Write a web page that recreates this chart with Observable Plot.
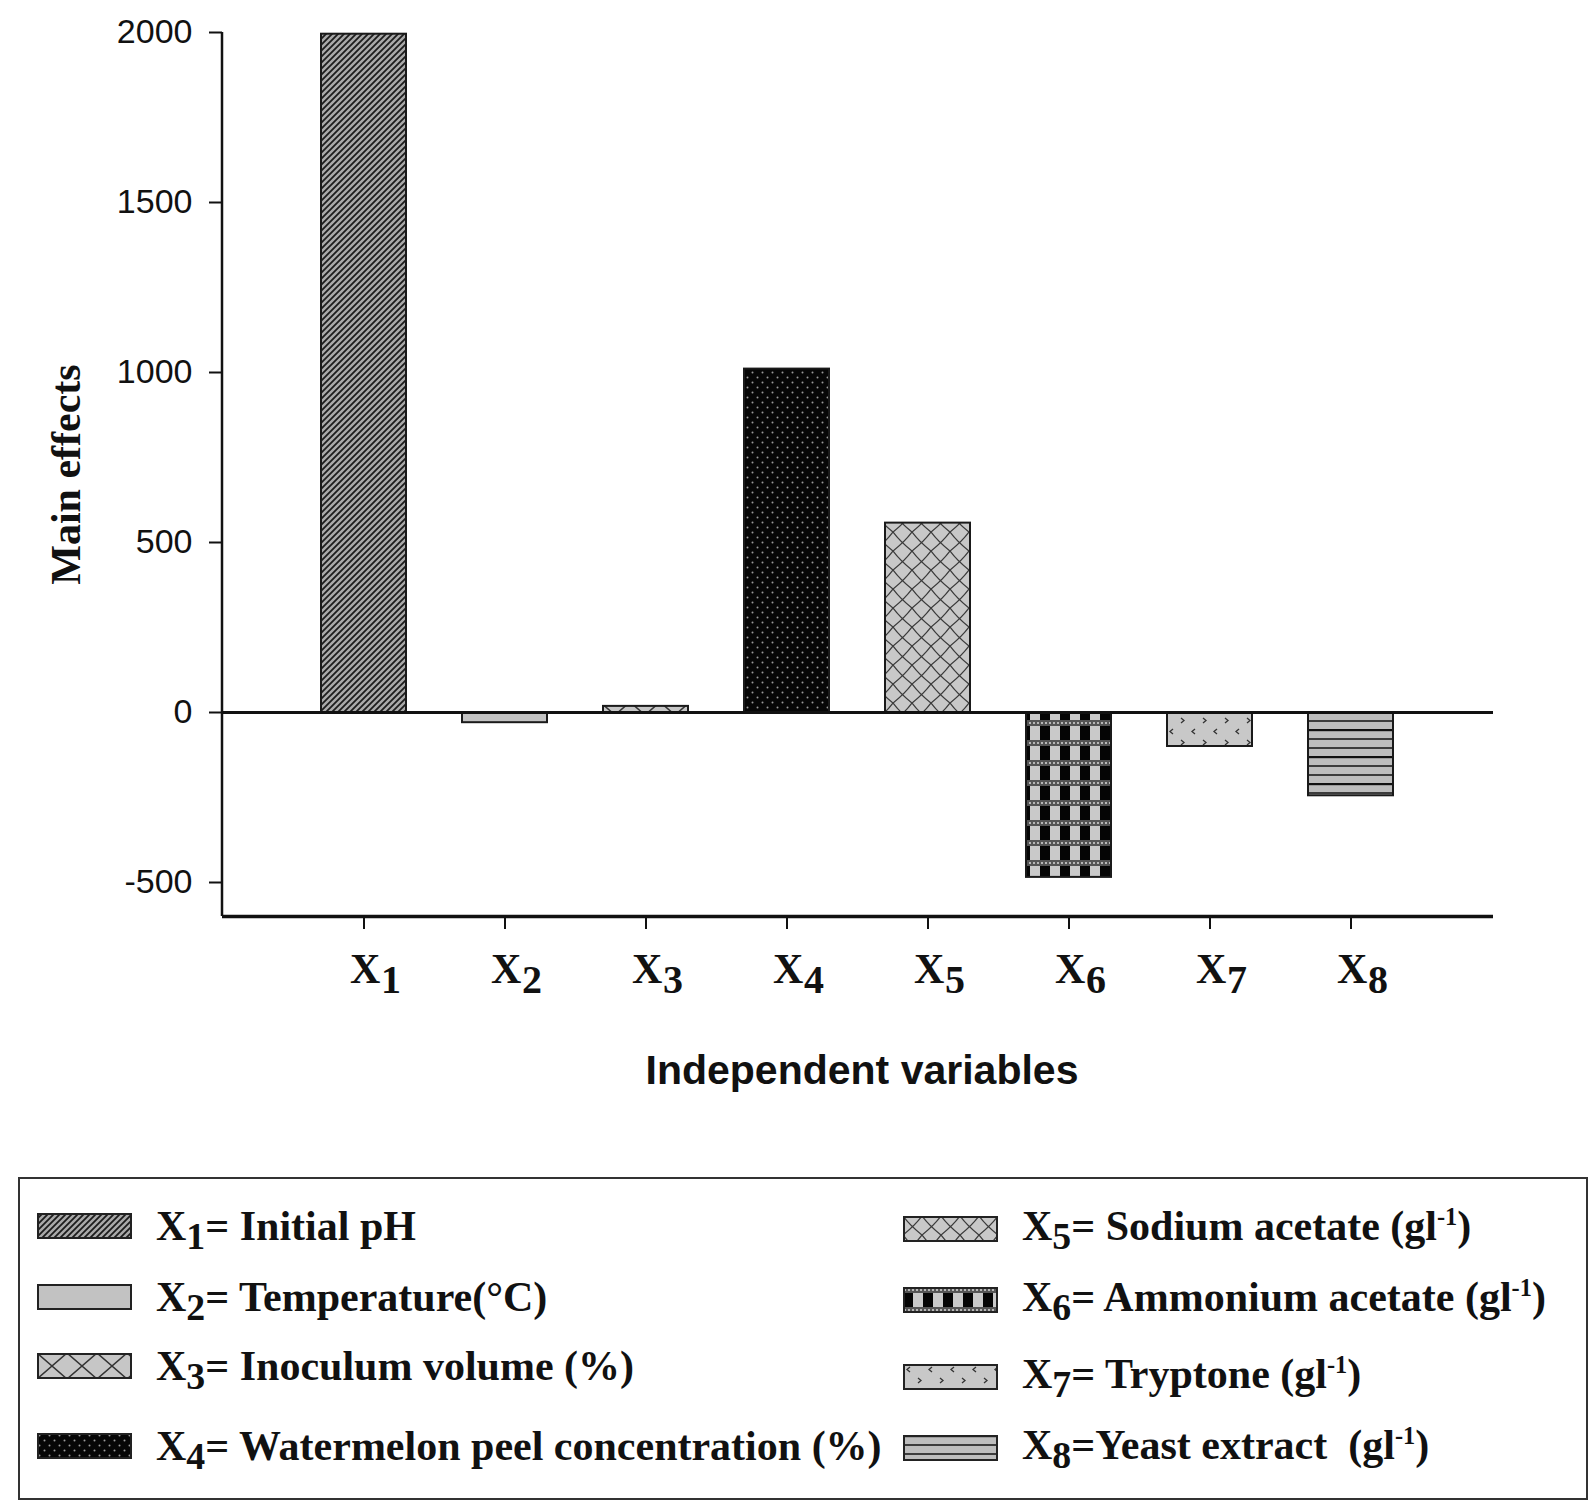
<!DOCTYPE html>
<html>
<head>
<meta charset="utf-8">
<script src="https://cdn.jsdelivr.net/npm/d3@7"></script>
<script src="https://cdn.jsdelivr.net/npm/@observablehq/plot@0.6"></script>
<style>
html, body { margin: 0; padding: 0; background: #fff; }
#page { position: relative; width: 1594px; height: 1510px; overflow: hidden; background: #fff; }
#chart svg { display: block; }
.legbox { position: absolute; left: 18px; top: 1177px; width: 1566px; height: 319px; border: 2px solid #333; box-sizing: content-box; }
.item { position: absolute; display: flex; align-items: center; height: 44px; font-family: "Liberation Serif", "Times New Roman", serif; font-weight: bold; font-size: 42px; line-height: 44px; color: #111; white-space: pre; }
.item svg { flex: none; display: block; }
.item .lbl { margin-left: 24px; }
.item .sub { position: relative; top: 0.24em; font-size: 0.9em; }
.item .sup { position: relative; top: -0.62em; font-size: 0.58em; }
</style>
</head>
<body>
<svg width="0" height="0" style="position:absolute">
  <defs>
    <pattern id="p1" patternUnits="userSpaceOnUse" width="6" height="6">
      <rect width="6" height="6" fill="#a9a9a9"/>
      <path d="M-1.5,1.5 L1.5,-1.5 M0,6 L6,0 M4.5,7.5 L7.5,4.5" stroke="#1c1c1c" stroke-width="1.8"/>
    </pattern>
    <pattern id="p2" patternUnits="userSpaceOnUse" width="10" height="10">
      <rect width="10" height="10" fill="#c2c2c2"/>
    </pattern>
    <pattern id="p3" patternUnits="userSpaceOnUse" width="30" height="26">
      <rect width="30" height="26" fill="#c6c6c6"/>
      <path d="M0,0 L30,26 M30,0 L0,26" stroke="#333" stroke-width="1.5" fill="none"/>
    </pattern>
    <pattern id="p4" patternUnits="userSpaceOnUse" width="10" height="10">
      <rect width="10" height="10" fill="#060606"/>
      <circle cx="2.5" cy="2.5" r="1" fill="#9a9a9a"/>
      <circle cx="7.5" cy="7.5" r="1" fill="#9a9a9a"/>
    </pattern>
    <pattern id="p5" patternUnits="userSpaceOnUse" width="19" height="19">
      <rect width="19" height="19" fill="#c8c8c8"/>
      <path d="M0,0 Q7,9.5 19,19 M19,0 Q12,9.5 0,19" stroke="#3a3a3a" stroke-width="1.3" fill="none"/>
    </pattern>
    <pattern id="p6" patternUnits="userSpaceOnUse" width="20" height="20">
      <rect width="20" height="20" fill="#c9c9c9"/>
      <rect x="0" y="0" width="20" height="6" fill="#555"/>
      <circle cx="2" cy="3" r="1" fill="#d8d8d8"/>
      <circle cx="6" cy="3" r="1" fill="#d8d8d8"/>
      <circle cx="10" cy="3" r="1" fill="#d8d8d8"/>
      <circle cx="14" cy="3" r="1" fill="#d8d8d8"/>
      <circle cx="18" cy="3" r="1" fill="#d8d8d8"/>
      <rect x="0" y="6" width="10" height="14" fill="#050505"/>
    </pattern>
    <pattern id="p7" patternUnits="userSpaceOnUse" width="22" height="22">
      <rect width="22" height="22" fill="#c8c8c8"/>
      <path d="M7,3 L4,5.5 L7,8 M15,14 L18,16.5 L15,19" stroke="#333" stroke-width="1.3" fill="none"/>
    </pattern>
    <pattern id="p8" patternUnits="userSpaceOnUse" width="10" height="27">
      <rect width="10" height="27" fill="#bdbdbd"/>
      <path d="M0,1 L10,1" stroke="#111" stroke-width="2.4"/>
      <path d="M0,10 L10,10 M0,19 L10,19" stroke="#111" stroke-width="1.3"/>
    </pattern>
  </defs>
</svg>
<div id="page">
  <div id="chart"></div>
  <div class="legbox"></div>
  <div id="legend"></div>
</div>
<script>
// ---- data ----
const categories = ["X1", "X2", "X3", "X4", "X5", "X6", "X7", "X8"];
const subscripts = ["1", "2", "3", "4", "5", "6", "7", "8"];
const values = [1995, -30, 18, 1010, 557, -485, -100, -245];
const yDomain = [-600, 2000];
const yTicks = [-500, 0, 500, 1000, 1500, 2000];
const patternIds = ["p1", "p2", "p3", "p4", "p5", "p6", "p7", "p8"];
const legendNames = ["Initial pH", "Temperature(°C)", "Inoculum volume (%)", "Watermelon peel concentration (%)",
                     "Sodium acetate", "Ammonium acetate", "Tryptone", "Yeast extract "];
const legendSeparators = ["= ", "= ", "= ", "= ", "= ", "= ", "= ", "="];
const legendPerLitre = [false, false, false, false, true, true, true, true];

const data = categories.map((c, i) => ({cat: c, sub: subscripts[i], value: values[i], fill: `url(#${patternIds[i]})`}));

const serif = "'Liberation Serif', 'Times New Roman', serif";
const sans = "'Liberation Sans', Arial, Helvetica, sans-serif";

const plot = Plot.plot({
  width: 1594,
  height: 1140,
  marginLeft: 222,
  marginRight: 101,
  marginTop: 32,
  marginBottom: 224,
  style: {fontFamily: sans, fontSize: "34px", color: "#111", background: "white"},
  x: {domain: categories, paddingInner: 0.394, paddingOuter: 0.702},
  y: {domain: yDomain},
  color: {type: "identity"},
  marks: [
    Plot.axisY({ticks: yTicks, tickSize: 13, tickPadding: 17, tickFormat: d => String(d), label: null, fontSize: 34, stroke: "#111", strokeWidth: 2}),
    Plot.axisX({tickSize: 13, tickFormat: () => "", label: null, stroke: "#111", strokeWidth: 2}),
    Plot.barY(data, {x: "cat", y: "value", fill: "fill", stroke: "#1a1a1a", strokeWidth: 2}),
    Plot.ruleY([0], {stroke: "#111", strokeWidth: 3}),
    Plot.ruleY([yDomain[0]], {stroke: "#111", strokeWidth: 3.5}),
    Plot.text(data, {x: "cat", text: () => "X", frameAnchor: "bottom", dx: -14, dy: 66, textAnchor: "start", lineAnchor: "bottom",
                     fontFamily: serif, fontWeight: "bold", fontSize: 42, fill: "#111"}),
    Plot.text(data, {x: "cat", text: "sub", frameAnchor: "bottom", dx: 17, dy: 76, textAnchor: "start", lineAnchor: "bottom",
                     fontFamily: serif, fontWeight: "bold", fontSize: 40, fill: "#111"}),
    Plot.text(["Main effects"], {text: d => d, frameAnchor: "left", dx: -156, rotate: -90, textAnchor: "middle", lineAnchor: "middle",
                     fontFamily: serif, fontWeight: "bold", fontSize: 42, fill: "#111"}),
    Plot.text(["Independent variables"], {text: d => d, frameAnchor: "bottom", dx: 4, dy: 167, textAnchor: "middle", lineAnchor: "bottom",
                     fontFamily: sans, fontWeight: "bold", fontSize: 41, fill: "#111"})
  ]
});

// left axis line drawn from the plot's own scales
const xs = plot.scale("x"), ys = plot.scale("y");
d3.select(plot).append("line")
  .attr("x1", xs.range[0]).attr("x2", xs.range[0])
  .attr("y1", ys.apply(yDomain[1])).attr("y2", ys.apply(yDomain[0]))
  .attr("stroke", "#111").attr("stroke-width", 2.5);

document.getElementById("chart").appendChild(plot);

// ---- legend ----
const legendPos = [
  [37, 1226], [37, 1297], [37, 1366], [37, 1446],
  [903, 1229], [903, 1300], [903, 1377], [903, 1448]
];
const legend = document.getElementById("legend");
categories.forEach((c, i) => {
  const item = document.createElement("div");
  item.className = "item";
  item.style.left = legendPos[i][0] + "px";
  item.style.top = (legendPos[i][1] - 22) + "px";
  const unit = legendPerLitre[i] ? ` (gl<span class="sup">-1</span>)` : "";
  item.innerHTML =
    `<svg width="95" height="26"><rect x="1" y="1" width="93" height="24" fill="url(#${patternIds[i]})" stroke="#222" stroke-width="2"/></svg>` +
    `<span class="lbl">X<span class="sub">${subscripts[i]}</span>${legendSeparators[i]}${legendNames[i]}${unit}</span>`;
  legend.appendChild(item);
});
</script>
</body>
</html>
